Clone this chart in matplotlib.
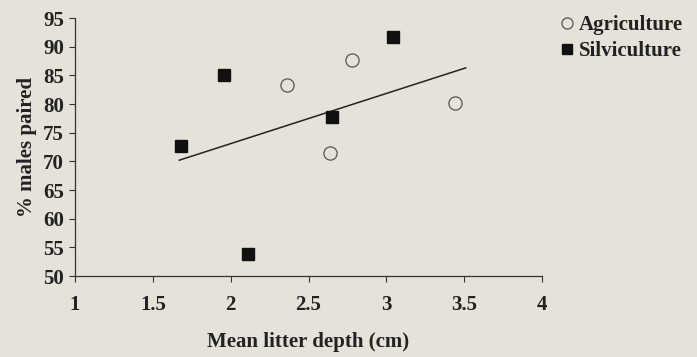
import matplotlib
matplotlib.use("Agg")
import matplotlib.pyplot as plt
from matplotlib.lines import Line2D

# Data
agri_x = [2.36, 2.64, 2.78, 3.44]
agri_y = [83.4, 71.5, 87.7, 80.1]
silv_x = [1.68, 1.96, 2.11, 2.65, 3.04]
silv_y = [72.7, 85.0, 53.9, 77.8, 91.7]
trend_x = [1.67, 3.51]
trend_y = [70.2, 86.3]
x_ticks = [1, 1.5, 2, 2.5, 3, 3.5, 4]
x_tick_labels = ["1", "1.5", "2", "2.5", "3", "3.5", "4"]
y_ticks = [50, 55, 60, 65, 70, 75, 80, 85, 90, 95]

bg = "#e5e2da"
plt.rcParams['font.family'] = ['Liberation Serif', 'DejaVu Serif']
fs = 15

fig = plt.figure(figsize=(6.97, 3.57), dpi=100, facecolor=bg)
ax = fig.add_axes([75/697, 1-276/357, (542-75)/697, (276-18)/357])
ax.set_facecolor(bg)

ax.plot(trend_x, trend_y, color="#222222", lw=1.1, zorder=2)
ax.plot(agri_x, agri_y, linestyle="none", marker="o", markersize=9.5,
        markerfacecolor="none", markeredgecolor="#555555", markeredgewidth=0.9, zorder=3)
ax.plot(silv_x, silv_y, linestyle="none", marker="s", markersize=9,
        markerfacecolor="#111111", markeredgecolor="#111111", zorder=3)

ax.set_xlim(1, 4)
ax.set_ylim(50, 95)
ax.set_xticks(x_ticks)
ax.set_xticklabels(x_tick_labels)
ax.set_yticks(y_ticks)
for s in ["top", "right"]:
    ax.spines[s].set_visible(False)
for s in ["left", "bottom"]:
    ax.spines[s].set_color("#333333")
    ax.spines[s].set_linewidth(0.9)
ax.tick_params(axis="both", direction="out", length=4, width=0.8, color="#333333",
               labelsize=fs, labelcolor="#222222")
ax.tick_params(axis="x", pad=10)
ax.tick_params(axis="y", pad=4)
for lab in ax.get_xticklabels() + ax.get_yticklabels():
    lab.set_fontweight("bold")

ax.set_xlabel("Mean litter depth (cm)", fontsize=fs, fontweight="bold", color="#222222", labelpad=12)
ax.set_ylabel("% males paired", fontsize=fs, fontweight="bold", color="#222222", labelpad=4)

handles = [
    Line2D([], [], linestyle="none", marker="o", markersize=8, markerfacecolor="none",
           markeredgecolor="#555555", markeredgewidth=0.9, label="Agriculture"),
    Line2D([], [], linestyle="none", marker="s", markersize=7, markerfacecolor="#111111",
           markeredgecolor="#111111", label="Silviculture"),
]
leg = fig.legend(handles=handles, loc="upper left", bbox_to_anchor=(561/697, 1-15/357),
                 frameon=False, borderpad=0, borderaxespad=0,
                 handlelength=0.6, handletextpad=0.25, labelspacing=0.3,
                 prop={"size": fs, "weight": "bold"})
for t in leg.get_texts():
    t.set_color("#222222")

fig.savefig("out.png", dpi=100, facecolor=bg)
